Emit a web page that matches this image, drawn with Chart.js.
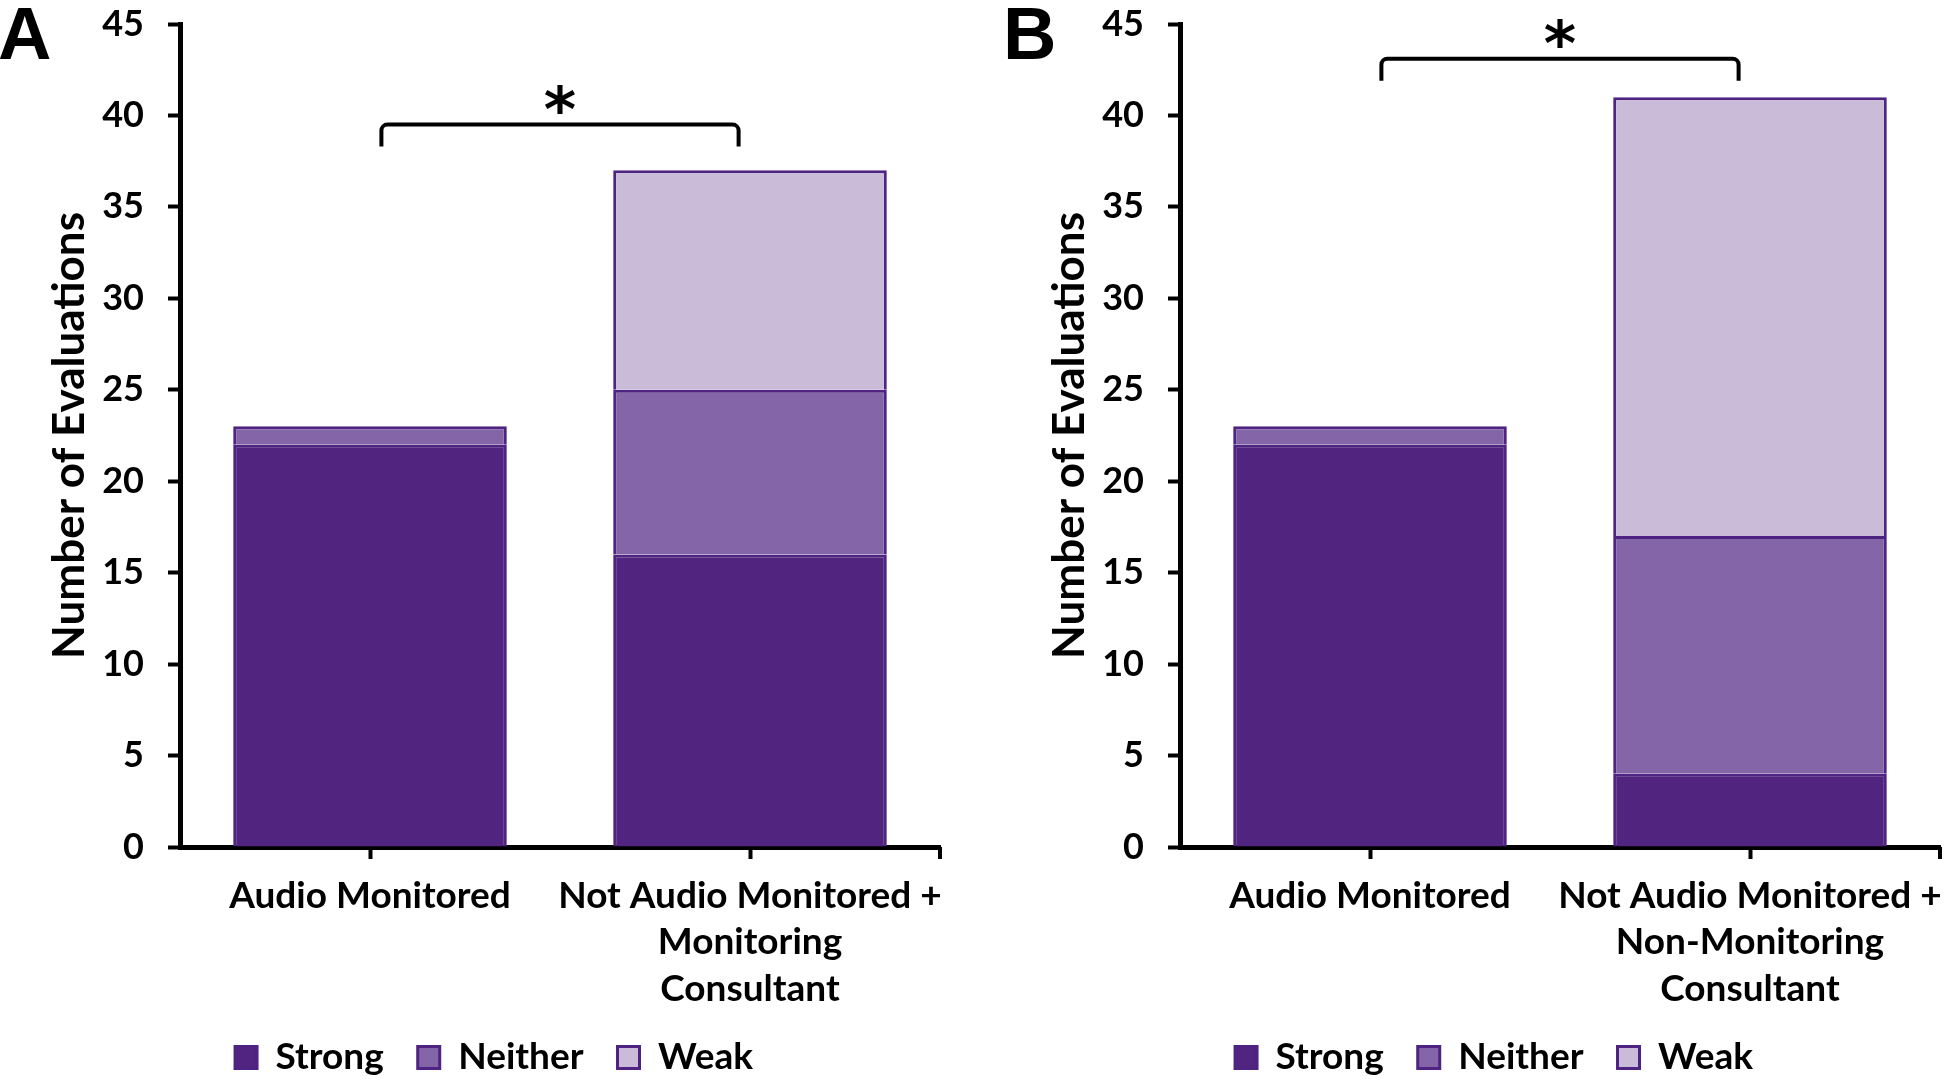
<!DOCTYPE html>
<html>
<head>
<meta charset="utf-8">
<script src="https://cdn.jsdelivr.net/npm/chart.js@4.4.0/dist/chart.umd.min.js"></script>
<style>
  html, body { margin: 0; padding: 0; background: #fff; overflow: hidden; width: 1946px; height: 1081px; }
  .panel { position: absolute; top: 0; width: 1000px; height: 1086px; }
  .letter { position: absolute; top: -3px; font: bold 74px "Liberation Sans", Arial, sans-serif; line-height: 1; color: #000; }
</style>
</head>
<body>
<div class="panel" style="left:0"><canvas id="chartA"></canvas></div>
<div class="panel" style="left:1000px"><canvas id="chartB"></canvas></div>
<div class="letter" style="left:-2px">A</div>
<div class="letter" style="left:1003px">B</div>
<script>
const seriesNames = ['Strong', 'Neither', 'Weak'];
const categoriesA = ['Audio Monitored', ['Not Audio Monitored +', 'Monitoring', 'Consultant']];
const categoriesB = ['Audio Monitored', ['Not Audio Monitored +', 'Non-Monitoring', 'Consultant']];
const strongA = [22, 16];
const neitherA = [1, 9];
const weakA = [0, 12];
const strongB = [22, 4];
const neitherB = [1, 13];
const weakB = [0, 24];
const yMax = 45;
const yStep = 5;
const yTitle = 'Number of Evaluations';
// significance brackets (category index / axis units)
const bracketA = {from: 0.03, to: 0.97, y: 39.5, drop: 1.2, label: '*'};
const bracketB = {from: 0.03, to: 0.97, y: 43.1, drop: 1.2, label: '*'};

const fills = ['#512480', '#8466a8', '#cabbd9'];
const edge = '#4e2381';
const txtFont = {family: 'Lato', weight: 'bold', size: 37};

Chart.defaults.font.family = 'Lato';
Chart.defaults.color = '#000';

function bracketPlugin(b) {
  return {
    id: 'bracket',
    afterDraw(chart) {
      const {ctx, chartArea} = chart;
      const x = chart.scales.x, y = chart.scales.y;
      const x0 = x.getPixelForValue(b.from);
      const x1 = x.getPixelForValue(b.to);
      const yTop = y.getPixelForValue(b.y);
      const yLeg = y.getPixelForValue(b.y - b.drop);
      ctx.save();
      ctx.strokeStyle = '#000';
      ctx.lineWidth = 4;
      ctx.beginPath();
      ctx.moveTo(x0, yLeg);
      ctx.arcTo(x0, yTop, x1, yTop, 6);
      ctx.arcTo(x1, yTop, x1, yLeg, 6);
      ctx.lineTo(x1, yLeg);
      ctx.stroke();
      ctx.fillStyle = '#000';
      ctx.font = 'bold 62px "DejaVu Sans"';
      ctx.textAlign = 'center';
      ctx.textBaseline = 'alphabetic';
      ctx.fillText(b.label, (x0 + x1) / 2, yTop + 6);
      // end tick of the category axis
      ctx.beginPath();
      ctx.moveTo(chartArea.right, chartArea.bottom);
      ctx.lineTo(chartArea.right, chartArea.bottom + 12);
      ctx.stroke();
      ctx.restore();
    }
  };
}

function makeChart(id, labels, strong, neither, weak, bracket) {
  const values = [strong, neither, weak];
  return new Chart(document.getElementById(id), {
    type: 'bar',
    data: {
      labels: labels,
      datasets: seriesNames.map((name, i) => ({
        label: name,
        data: values[i],
        backgroundColor: fills[i],
        borderColor: edge,
        borderWidth: 3,
        categoryPercentage: 0.9,
        barPercentage: 0.8
      }))
    },
    options: {
      responsive: true,
      maintainAspectRatio: false,
      animation: false,
      layout: {padding: {left: 48, right: 60, top: 24, bottom: 0}},
      plugins: {
        tooltip: {enabled: false},
        legend: {
          position: 'bottom',
          labels: {font: txtFont, color: '#000', boxWidth: 22, boxHeight: 22, padding: 34}
        }
      },
      scales: {
        x: {
          stacked: true,
          grid: {display: true, drawOnChartArea: false, drawTicks: true, tickLength: 12, tickWidth: 4, tickColor: '#000', offset: false},
          border: {display: true, color: '#000', width: 5},
          ticks: {font: Object.assign({lineHeight: 1.25}, txtFont), color: '#000', padding: 14, maxRotation: 0, autoSkip: false},
          afterFit(s) { s.height = 158; s.paddingLeft = 0; s.paddingRight = 0; }
        },
        y: {
          stacked: true,
          min: 0,
          max: yMax,
          grid: {display: true, drawOnChartArea: false, drawTicks: true, tickLength: 12, tickWidth: 4, tickColor: '#000'},
          border: {display: true, color: '#000', width: 5},
          ticks: {stepSize: yStep, font: Object.assign({}, txtFont, {size: 36}), color: '#000', padding: 24},
          title: {display: true, text: yTitle, color: '#000', padding: 0,
                  font: {family: 'Lato', weight: 'bold', size: 44, lineHeight: 1.0}},
          afterFit(s) { s.width = 132; s.paddingTop = 0; s.paddingBottom = 0; }
        }
      }
    },
    plugins: [bracketPlugin(bracket)]
  });
}

makeChart('chartA', categoriesA, strongA, neitherA, weakA, bracketA);
makeChart('chartB', categoriesB, strongB, neitherB, weakB, bracketB);
</script>
</body>
</html>
